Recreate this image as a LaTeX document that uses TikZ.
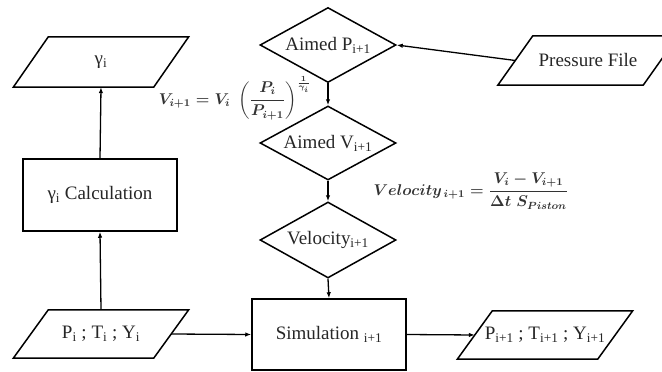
\documentclass[tikz,border=0pt]{standalone}
\usepackage{amsmath}
\usepackage{fontspec}
\setmainfont{Liberation Serif}
\usetikzlibrary{shapes.geometric,arrows.meta}
\newcommand\parabox[6]{% name, x, y, edge width, height, text
  \node[ptext, minimum width=#4, minimum height=#5] (#1) at (#2,#3) {#6};
  \draw[shapeline] ([xshift=17.5pt]#1.north west) -- ([xshift=17.5pt]#1.north east)
     -- ([xshift=-17.5pt]#1.south east) -- ([xshift=-17.5pt]#1.south west) -- cycle;}
\begin{document}
\begin{tikzpicture}[x=1pt,y=-1pt,
  shapeline/.style={line width=1.5pt,line join=miter},
  ptext/.style={inner sep=0pt,font=\fontsize{19}{22}\selectfont,text=black!85},
  procbox/.style={draw,line width=1.5pt,inner sep=0pt,font=\fontsize{19}{22}\selectfont,text=black!85},
  decision/.style={draw,diamond,aspect=1.8,line width=1.5pt,inner sep=0pt,minimum width=136pt,minimum height=75pt,font=\fontsize{19}{22}\selectfont,text=black!85},
  arr/.style={line width=1.3pt,-{Latex[length=6pt,width=4.5pt]}},
  eqn/.style={inner sep=0pt,font=\fontsize{12}{14}\selectfont\boldmath,text=black!80,scale=1.3,transform shape}]
\useasboundingbox (0,0) rectangle (662,372);
\clip (0,0) rectangle (662,372);
% parallelograms
\parabox{gam}{101}{62}{140}{50}{γ\textsubscript{i}}
\parabox{pin}{101}{334}{140}{48}{P\textsubscript{i} ; T\textsubscript{i} ; Y\textsubscript{i}}
\parabox{pout}{545}{335}{140}{48}{P\textsubscript{i+1} ; T\textsubscript{i+1} ; Y\textsubscript{i+1}}
\parabox{pfile}{588}{60.5}{145}{49}{Pressure File}
% boxes
\node[procbox,minimum width=154pt,minimum height=72pt] (calc) at (100,195) {γ\textsubscript{i} Calculation};
\node[procbox,minimum width=154pt,minimum height=71pt] (sim) at (329,334.5) {Simulation \textsubscript{i+1}};
% diamonds
\node[decision] (ap) at (328,45) {Aimed P\textsubscript{i+1}};
\node[decision,minimum height=74pt] (av) at (328,143) {Aimed V\textsubscript{i+1}};
\node[decision,minimum height=76pt] (vel) at (328,240) {Velocity\textsubscript{i+1}};
% equations
\node[eqn] (eq1) at (235,98) {$V_{i+1}=V_i\;\left(\dfrac{P_i}{P_{i+1}}\right)^{\frac{1}{\gamma_i}}$};
\node[eqn] (eq2) at (471,191) {$Velocity_{\,i+1}=\dfrac{V_i-V_{i+1}}{\Delta t\; S_{Piston}}$};
% connectors
\draw[arr] (calc.north) -- (gam.south);
\draw[arr] (pin.north) -- (calc.south);
\draw[arr] (pin.east) -- (sim.west);
\draw[arr] (sim.east) -- (pout.west);
\draw[arr] (ap.south) -- (av.north);
\draw[arr] (av.south) -- (vel.north);
\draw[arr] (vel.south) -- (sim.north);
\draw[arr] (pfile.west) -- (ap.east);
\end{tikzpicture}
\end{document}
